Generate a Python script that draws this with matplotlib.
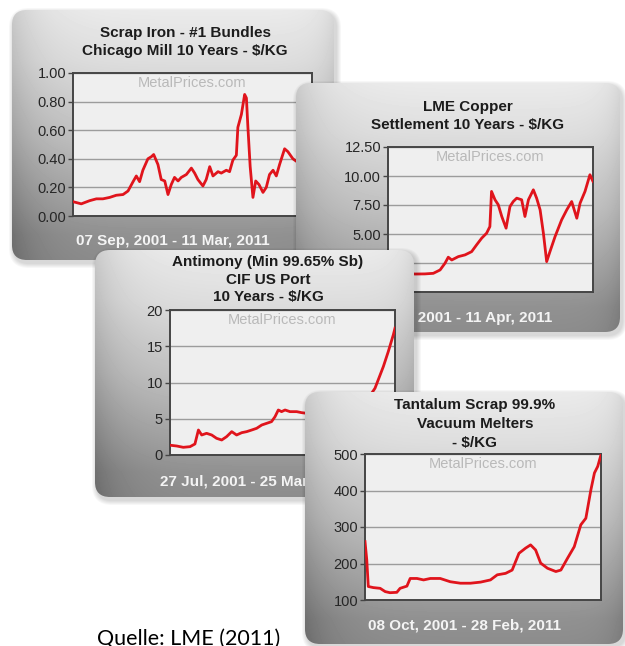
import numpy as np
import matplotlib
matplotlib.use("Agg")
import matplotlib.pyplot as plt
from matplotlib.patches import FancyBboxPatch

plt.rcParams["font.family"] = ["Liberation Sans", "DejaVu Sans"]

# ---------------- data ----------------
scrap_years = [2001.68, 2002.01, 2002.34, 2002.61, 2002.87, 2003.14, 2003.40, 2003.67, 2003.87, 2004.07,
               2004.20, 2004.33, 2004.46, 2004.66, 2004.80, 2004.89, 2005.06, 2005.19, 2005.33, 2005.46,
               2005.59, 2005.72, 2005.86, 2005.99, 2006.19, 2006.39, 2006.52, 2006.65, 2006.85, 2006.98,
               2007.12, 2007.25, 2007.45, 2007.58, 2007.78, 2007.91, 2008.04, 2008.18, 2008.24, 2008.38,
               2008.51, 2008.58, 2008.64, 2008.73, 2008.84, 2008.95, 2009.08, 2009.24, 2009.37, 2009.50,
               2009.64, 2009.77, 2009.90, 2010.10, 2010.23, 2010.43, 2010.59, 2010.90, 2011.19]
scrap_price = [0.10, 0.085, 0.107, 0.12, 0.12, 0.13, 0.145, 0.15, 0.175, 0.24,
               0.28, 0.24, 0.32, 0.40, 0.415, 0.43, 0.36, 0.255, 0.245, 0.15,
               0.22, 0.27, 0.245, 0.27, 0.29, 0.335, 0.30, 0.255, 0.21, 0.255,
               0.345, 0.28, 0.31, 0.30, 0.32, 0.31, 0.39, 0.425, 0.62, 0.71,
               0.85, 0.825, 0.62, 0.345, 0.13, 0.245, 0.22, 0.165, 0.20, 0.29,
               0.32, 0.28, 0.36, 0.47, 0.45, 0.40, 0.38, 0.42, 0.45]

copper_years = [2001.28, 2001.70, 2002.20, 2002.60, 2003.08, 2003.49, 2003.82, 2004.06, 2004.22, 2004.39,
                2004.71, 2005.04, 2005.36, 2005.60, 2005.85, 2006.09, 2006.25, 2006.33, 2006.50, 2006.66,
                2006.83, 2007.04, 2007.23, 2007.39, 2007.56, 2007.80, 2007.96, 2008.13, 2008.37, 2008.53,
                2008.70, 2008.86, 2009.02, 2009.18, 2009.43, 2009.75, 2010.00, 2010.24, 2010.49, 2010.65,
                2010.89, 2011.13, 2011.28]
copper_price = [1.65, 1.45, 1.60, 1.55, 1.56, 1.61, 1.90, 2.48, 3.00, 2.76,
                3.05, 3.20, 3.48, 4.06, 4.64, 5.07, 5.64, 8.67, 7.95, 7.52,
                6.51, 5.50, 7.37, 7.80, 8.09, 7.95, 6.51, 7.95, 8.81, 8.09,
                7.08, 5.07, 2.62, 3.48, 4.78, 6.22, 7.08, 7.80, 6.36, 7.66,
                8.67, 10.11, 9.53]

antimony_years = [2001.57, 2001.86, 2002.14, 2002.43, 2002.64, 2002.79, 2002.93, 2003.14, 2003.36, 2003.57,
                  2003.79, 2004.00, 2004.22, 2004.43, 2004.65, 2004.86, 2005.08, 2005.29, 2005.51, 2005.72,
                  2005.93, 2006.08, 2006.22, 2006.36, 2006.51, 2006.72, 2007.01, 2007.22, 2007.80, 2008.50,
                  2009.20, 2009.80, 2010.37, 2010.73, 2010.94, 2011.16, 2011.23]
antimony_price = [1.35, 1.24, 1.06, 1.15, 1.52, 3.45, 2.76, 2.99, 2.76, 2.30,
                  2.07, 2.53, 3.22, 2.76, 3.08, 3.22, 3.45, 3.68, 4.14, 4.37,
                  4.60, 5.29, 6.21, 5.98, 6.21, 5.98, 5.98, 5.84, 5.60, 6.00,
                  5.40, 6.50, 9.20, 12.20, 14.25, 16.60, 17.50]

tantalum_years = [2001.77, 2001.84, 2001.90, 2002.10, 2002.37, 2002.57, 2002.76, 2003.03, 2003.16, 2003.43,
                  2003.56, 2003.83, 2004.09, 2004.36, 2004.75, 2005.15, 2005.55, 2005.95, 2006.35, 2006.74,
                  2007.01, 2007.34, 2007.60, 2007.87, 2008.13, 2008.33, 2008.53, 2008.73, 2009.00, 2009.33,
                  2009.53, 2009.79, 2010.06, 2010.32, 2010.52, 2010.72, 2010.86, 2010.99, 2011.12]
tantalum_price = [260, 210, 137, 134, 132, 123, 120, 121, 132, 138,
                  159, 159, 155, 159, 159, 150, 146, 146, 149, 155,
                  169, 173, 182, 228, 242, 251, 237, 201, 187, 178,
                  182, 214, 246, 306, 324, 402, 448, 466, 498]

scrap_ticks = [0.0, 0.2, 0.4, 0.6, 0.8, 1.0]
scrap_ticklabels = ["0.00", "0.20", "0.40", "0.60", "0.80", "1.00"]
copper_ticks = [0.0, 2.5, 5.0, 7.5, 10.0, 12.5]
copper_ticklabels = ["0.00", "2.50", "5.00", "7.50", "10.00", "12.50"]
antimony_ticks = [0, 5, 10, 15, 20]
antimony_ticklabels = ["0", "5", "10", "15", "20"]
tantalum_ticks = [100, 200, 300, 400, 500]
tantalum_ticklabels = ["100", "200", "300", "400", "500"]

scrap_title = ["Scrap Iron - #1 Bundles", "Chicago Mill 10 Years - $/KG"]
copper_title = ["LME Copper", "Settlement 10 Years - $/KG"]
antimony_title = ["Antimony (Min 99.65% Sb)", "CIF US Port", "10 Years - $/KG"]
tantalum_title = ["Tantalum Scrap 99.9%", "Vacuum Melters", "- $/KG"]

scrap_dates = "07 Sep, 2001 - 11 Mar, 2011"
copper_dates = "11 Apr, 2001 - 11 Apr, 2011"
antimony_dates = "27 Jul, 2001 - 25 Mar, 2011"
tantalum_dates = "08 Oct, 2001 - 28 Feb, 2011"

caption = "Quelle: LME (2011)"
watermark = "MetalPrices.com"

# ---------------- drawing ----------------
W, H = 625, 646
fig = plt.figure(figsize=(W / 100, H / 100), dpi=100)
fig.patch.set_facecolor("white")


def px_axes(x0, y0, x1, y1, z):
    return fig.add_axes([x0 / W, 1 - y1 / H, (x1 - x0) / W, (y1 - y0) / H], zorder=z)


def draw_frame(box, z, title_lines, title_cx, title_y0, title_dy, date_text, date_y):
    x0, y0, x1, y1 = box
    m = 10
    ax = px_axes(x0 - m, y0 - m, x1 + m, y1 + m, z)
    ax.set_xlim(x0 - m, x1 + m)
    ax.set_ylim(y1 + m, y0 - m)
    ax.axis("off")
    ax.patch.set_alpha(0)
    # soft shadow
    for k in range(5):
        pad = 1 + k
        sh = FancyBboxPatch((x0 + 2 - pad, y0 + 3 - pad), (x1 - x0) + 2 * pad, (y1 - y0) + 2 * pad,
                            boxstyle="round,pad=0,rounding_size=%d" % (15 + pad),
                            facecolor="black", edgecolor="none", alpha=0.03, zorder=1)
        ax.add_patch(sh)
    w = int(x1 - x0)
    h = int(y1 - y0)
    xs = np.arange(w)[None, :]
    ys = np.linspace(0, 1, h)[:, None]
    vert = np.interp(ys, [0, 0.2, 0.5, 0.8, 0.9, 1.0], [0.92, 0.87, 0.76, 0.62, 0.57, 0.55])
    left = 0.13 * np.exp(-xs / 28.0)
    right = 0.08 * np.exp(-(w - xs) / 14.0)
    img = np.clip(vert - left - right, 0, 1)
    im = ax.imshow(img, extent=(x0, x1, y1, y0), cmap="gray", vmin=0, vmax=1,
                   interpolation="bilinear", aspect="auto", zorder=2)
    clip = FancyBboxPatch((x0, y0), x1 - x0, y1 - y0, boxstyle="round,pad=0,rounding_size=15",
                          facecolor="none", edgecolor="none", transform=ax.transData)
    ax.add_patch(clip)
    im.set_clip_path(clip)
    for i, line in enumerate(title_lines):
        ax.text(title_cx, title_y0 + i * title_dy, line, ha="center", va="center",
                fontsize=11, fontweight="bold", color="#1c1c1c", zorder=5)
    ax.text((x0 + x1) / 2, date_y, date_text, ha="center", va="center",
            fontsize=11, fontweight="bold", color="#f4f4f4", zorder=5)
    return ax


def draw_chart(box, z, years, prices, ylim, ticks, ticklabels):
    x0, y0, x1, y1 = box
    ax = px_axes(x0, y0, x1, y1, z)
    ax.set_facecolor("#efefef")
    ax.plot(years, prices, color="#e0141c", lw=2.0, solid_joinstyle="round", zorder=3)
    ax.set_xlim(years[0], years[-1])
    ax.set_ylim(*ylim)
    ax.set_yticks(ticks)
    ax.set_yticklabels(ticklabels)
    ax.set_xticks([])
    ax.yaxis.grid(True, color="#9c9c9c", lw=1.0)
    ax.set_axisbelow(True)
    for s in ax.spines.values():
        s.set_color("#454545")
        s.set_linewidth(1.4)
    ax.tick_params(axis="y", length=3.5, width=1, color="#454545", labelsize=10.5,
                   labelcolor="#262626", pad=1.5)
    ax.text(0.5, 1 - 10 / (y1 - y0), watermark, transform=ax.transAxes, ha="center", va="center",
            fontsize=10.5, color="#b9b9b9", zorder=2)
    return ax


# Panel 1: scrap iron
draw_frame((12, 10, 334, 260), 10, scrap_title, 185, 33, 18, scrap_dates, 241)
draw_chart((73, 73, 312, 216), 11, scrap_years, scrap_price, (0, 1.0), scrap_ticks, scrap_ticklabels)

# Panel 2: copper
draw_frame((296, 83, 620, 332), 20, copper_title, 468, 107, 18, copper_dates, 318)
draw_chart((388, 147, 593, 292), 21, copper_years, copper_price, (0, 12.5), copper_ticks, copper_ticklabels)

# Panel 3: antimony
draw_frame((95, 250, 414, 497), 30, antimony_title, 268, 262, 17.5, antimony_dates, 481)
draw_chart((170, 310, 395, 455), 31, antimony_years, antimony_price, (0, 20), antimony_ticks, antimony_ticklabels)

# Panel 4: tantalum
draw_frame((305, 392, 623, 644), 40, tantalum_title, 475, 405, 19, tantalum_dates, 625)
draw_chart((365, 454, 601, 600), 41, tantalum_years, tantalum_price, (100, 500), tantalum_ticks, tantalum_ticklabels)

fig.text(97 / W, 1 - 629 / H, caption, ha="left", va="top", fontsize=15.5, color="black",
         family=["Lato", "DejaVu Sans"], zorder=100)

fig.savefig("out.png", dpi=100, facecolor="white")
